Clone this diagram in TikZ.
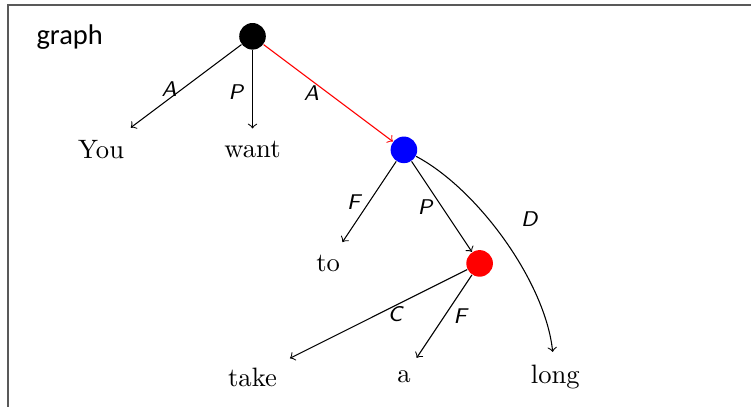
\documentclass[tikz,border=0pt]{standalone}
\usepackage{fontspec}
\newfontfamily\graphfont{Carlito}
\begin{document}
\begin{tikzpicture}[x=1cm,y=1cm,
  dot/.style={circle,inner sep=0pt,minimum size=10pt},
  word/.style={inner sep=4.7pt},
  lbl/.style={font=\sffamily\itshape\footnotesize, midway},
  frameline/.style={black!65, line width=0.6pt}]
\useasboundingbox (-3.336,-4.884) rectangle (6.585,0.4795);
\coordinate (fb) at (-3.230,-5.2);
\coordinate (fc) at (-3.230,0.4135);
\coordinate (fr) at (7.0,0.4135);
\draw[frameline] (fb) -- (fc) -- (fr);
\node[anchor=base west,inner sep=0pt,font=\graphfont\fontsize{10.7}{12}\selectfont] (g) at (-2.860,-0.102) {graph};
\node[dot,fill=black] (r) at (0,0) {};
\node[dot,fill=blue] (b) at (2,-1.5) {};
\node[dot,fill=red] (rd) at (3,-3) {};
\node[word] (you) at (-2,-1.5) {You};
\node[word] (want) at (0,-1.5) {want};
\node[word] (to) at (1,-3) {to};
\node[word] (take) at (0,-4.5) {take};
\node[word] (a) at (2,-4.5) {a};
\node[word] (long) at (4,-4.5) {long};
\draw[->] (r) -- node[lbl,left,yshift=-1pt]{A} (you);
\draw[->] (r) -- node[lbl,left,yshift=-1.2pt]{P} (want);
\draw[->,red] (r) -- node[lbl,left,text=black]{A} (b);
\draw[->] (b) -- node[lbl,left]{F} (to);
\draw[->] (b) -- node[lbl,left]{P} (rd);
\draw[->] (b) to[out=-28,in=96,looseness=0.75] node[lbl,right,xshift=2.6pt,yshift=7.9pt]{D} (long);
\draw[->] (rd) -- node[lbl,right]{C} (take);
\draw[->] (rd) -- node[lbl,right]{F} (a);
\end{tikzpicture}
\end{document}
